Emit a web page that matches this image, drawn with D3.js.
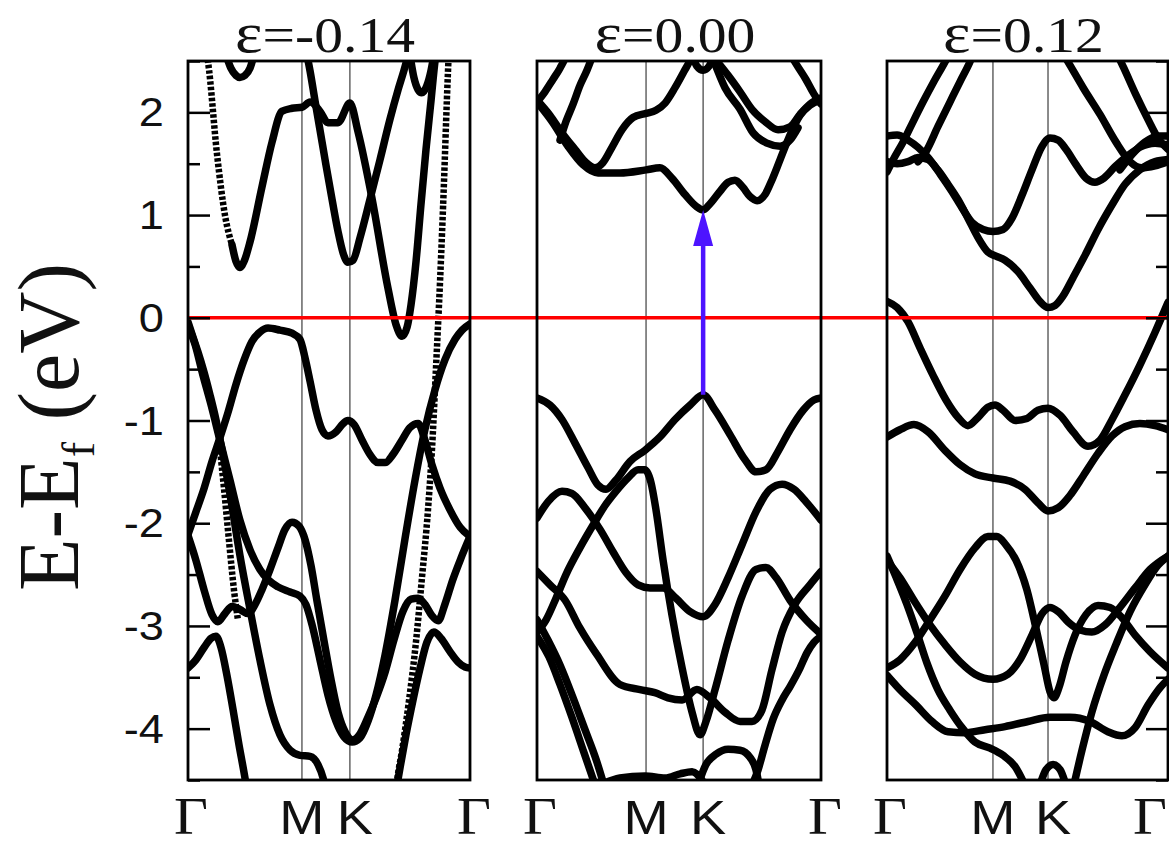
<!DOCTYPE html>
<html>
<head>
<meta charset="utf-8">
<script src="https://cdn.jsdelivr.net/npm/d3@7/dist/d3.min.js"></script>
<style>
  body { margin: 0; background: #fff; }
  svg { display: block; }
</style>
</head>
<body>
<div id="chart"></div>
<script>
// energy window (eV) and ticks
const energyRange = [-4.5, 2.5];
const majorTicks = [-4, -3, -2, -1, 0, 1, 2];
const minorTicks = [-4.5, -3.5, -2.5, -1.5, -0.5, 0.5, 1.5, 2.5];
const kLabels = ["Γ", "M", "K", "Γ"];
const strains = ["-0.14", "0.00", "0.12"];

// k-path positions (percent of path) of Γ, M, K, Γ in each panel
const kTicksA = [0, 40.4, 57.4, 100];
const kTicksB = [0, 38.4, 58.5, 100];
const kTicksC = [0, 37.7, 57.3, 100];

// gap arrow in the middle panel: [k, E from, E to]
const gapArrow = [58.5, -0.75, 1.05];

// bands as [k, E] — strain -0.14
const bandsA = [
  [[15.6,0.71],[17.0,0.55],[18.4,0.49],[19.9,0.55],[22.0,0.74],[26.2,1.27],[29.8,1.71],[33.3,2.01],[36.9,2.04],[40.4,2.05],[43.3,2.10],[46.8,2.01],[49.6,1.90],[53.2,1.90],[57.4,2.09],[60.3,1.81],[65.2,1.17],[70.9,0.29],[73.8,-0.07],[75.9,-0.18],[77.7,-0.09],[79.1,0.13],[80.9,0.56],[82.6,1.10],[84.4,1.64],[86.2,2.12],[87.6,2.50],[88.2,2.62]],
  [[13.5,2.56],[15.2,2.43],[17.0,2.36],[18.4,2.34],[20.2,2.36],[22.0,2.43],[23.4,2.56]],
  [[41.8,2.61],[43.3,2.40],[45.0,2.12],[46.8,1.83],[48.9,1.49],[51.1,1.15],[53.2,0.84],[55.0,0.63],[56.7,0.54],[58.5,0.56],[61.0,0.78],[64.5,1.15],[68.1,1.54],[71.6,1.93],[74.5,2.22],[76.6,2.41],[78.4,2.59]],
  [[78.7,2.56],[80.1,2.34],[81.6,2.22],[82.9,2.19],[84.7,2.26],[86.2,2.41],[87.2,2.56]],
  [[0,-0.04],[1.8,-0.19],[3.5,-0.33],[5.7,-0.53],[7.8,-0.75],[9.9,-0.99],[12.1,-1.29],[14.9,-1.72],[18.4,-2.31],[22.0,-2.84],[25.5,-3.33],[29.1,-3.77],[32.6,-4.06],[36.2,-4.21],[39.7,-4.26],[43.3,-4.27],[46.1,-4.35],[47.9,-4.48],[48.9,-4.60]],
  [[0,-2.11],[2.8,-1.89],[5.7,-1.66],[8.5,-1.40],[11.3,-1.17],[14.2,-0.92],[17.0,-0.65],[19.9,-0.41],[22.7,-0.23],[25.5,-0.14],[28.4,-0.10],[32.6,-0.12],[36.9,-0.15],[39.7,-0.21],[41.5,-0.39],[43.3,-0.62],[45.4,-0.90],[47.5,-1.09],[49.6,-1.15],[52.5,-1.11],[55.0,-1.03],[56.7,-1.00],[58.9,-1.04],[61.7,-1.19],[64.5,-1.33],[67.4,-1.41],[69.9,-1.41],[72.7,-1.33],[75.9,-1.19],[78.7,-1.07],[81.6,-1.03],[84.0,-1.19],[86.5,-1.43],[89.4,-1.66],[92.9,-1.87],[96.5,-2.04],[100,-2.13]],
  [[0,-0.07],[2.5,-0.26],[5.3,-0.56],[8.2,-0.85],[11.3,-1.19],[14.9,-1.58],[18.4,-1.97],[22.0,-2.26],[25.5,-2.45],[28.4,-2.55],[31.9,-2.62],[36.2,-2.67],[39.7,-2.71],[41.8,-2.79],[44.0,-2.99],[46.8,-3.33],[49.6,-3.67],[52.5,-3.93],[55.3,-4.08],[58.2,-4.13],[61.0,-4.09],[63.8,-3.93],[66.7,-3.67],[69.9,-3.28],[73.4,-2.75],[76.9,-2.16],[80.5,-1.58],[84.0,-1.09],[87.6,-0.70],[91.1,-0.41],[94.7,-0.21],[97.2,-0.12],[100,-0.06]],
  [[0,-2.12],[2.8,-2.36],[5.7,-2.65],[8.5,-2.89],[10.6,-2.96],[13.1,-2.88],[15.6,-2.81],[18.4,-2.84],[21.3,-2.88],[23.8,-2.79],[26.2,-2.65],[29.1,-2.45],[31.9,-2.24],[34.4,-2.06],[36.9,-1.99],[39.4,-2.03],[41.5,-2.16],[43.6,-2.41],[45.7,-2.75],[48.2,-3.14],[50.7,-3.52],[53.2,-3.84],[55.7,-4.03],[58.2,-4.11],[61.0,-4.05],[63.8,-3.89],[66.7,-3.70],[69.9,-3.45],[73.0,-3.14],[76.2,-2.86],[79.1,-2.74],[81.6,-2.73],[84.0,-2.79],[86.5,-2.90],[88.7,-2.95],[91.1,-2.79],[93.9,-2.55],[96.8,-2.34],[100,-2.13]],
  [[0,-3.41],[2.8,-3.33],[5.7,-3.21],[8.2,-3.12],[9.9,-3.10],[11.7,-3.21],[13.8,-3.48],[16.0,-3.82],[18.1,-4.16],[20.2,-4.48],[20.9,-4.60]],
  [[73.8,-4.60],[75.2,-4.38],[77.3,-4.06],[79.8,-3.72],[82.3,-3.41],[84.7,-3.16],[87.2,-3.06],[89.7,-3.12],[92.9,-3.25],[95.7,-3.35],[98.2,-3.40],[100,-3.41]]
];
const dottedA = [
  [[6.3,2.62],[7.1,2.49],[10.3,1.59],[13.1,1.00],[15.6,0.71]],
  [[73.6,-4.65],[74.1,-4.52],[75.9,-4.21],[78.4,-3.72],[80.9,-3.14],[82.9,-2.55],[85.1,-1.87],[86.5,-1.29],[87.9,-0.51],[89.4,0.37],[90.8,1.34],[91.8,2.12],[92.5,2.61]],
  [[11.0,-1.19],[12.8,-1.67],[14.5,-2.16],[16.3,-2.65],[17.7,-2.94]]
];

// strain 0.00
const bandsB = [
  [[0,2.10],[5.3,1.91],[10.9,1.67],[16.2,1.49],[21.5,1.41],[29.2,1.41],[38.4,1.44],[43.3,1.46],[47.5,1.36],[52.1,1.20],[56.3,1.08],[58.5,1.05],[60.6,1.10],[64.4,1.23],[67.3,1.32],[69.7,1.34],[72.5,1.27],[75.0,1.18],[77.5,1.14],[80.3,1.20],[82.7,1.34],[85.6,1.54],[89.1,1.78],[92.6,1.97],[96.1,2.07],[100,2.12]],
  [[0,2.12],[4.6,1.97],[8.8,1.80],[13.4,1.64],[17.3,1.51],[20.4,1.46],[23.2,1.51],[26.4,1.66],[29.9,1.83],[33.8,1.95],[38.4,1.99],[41.9,2.02],[45.1,2.09],[48.6,2.24],[51.8,2.40],[53.9,2.51],[54.9,2.59]],
  [[0,2.10],[2.8,2.20],[5.6,2.32],[8.1,2.43],[10.2,2.55],[11.0,2.62]],
  [[8.1,1.73],[10.2,1.91],[12.7,2.08],[15.1,2.26],[17.6,2.41],[19.7,2.56]],
  [[54.6,2.56],[56.3,2.45],[58.5,2.41],[60.6,2.45],[62.3,2.56]],
  [[63.0,2.51],[67.3,2.36],[71.5,2.20],[75.7,2.03],[80.3,1.91],[84.9,1.83],[89.1,1.86],[92.6,1.98],[96.1,2.08],[100,2.14]],
  [[62.0,2.52],[66.2,2.24],[71.5,2.03],[76.1,1.80],[81.0,1.70],[85.6,1.67],[89.1,1.73],[91.9,1.85]],
  [[88.7,2.59],[91.5,2.46],[94.7,2.32],[97.5,2.18],[100,2.08]],
  [[0,-0.78],[4.6,-0.85],[8.8,-0.99],[13.4,-1.22],[18.0,-1.46],[21.5,-1.63],[24.3,-1.67],[27.8,-1.58],[32.7,-1.40],[38.0,-1.29],[43.3,-1.16],[48.6,-0.99],[53.9,-0.85],[58.5,-0.75],[62.7,-0.90],[68.0,-1.14],[73.2,-1.38],[77.1,-1.50],[80.6,-1.48],[84.9,-1.30],[89.1,-1.09],[93.7,-0.90],[97.5,-0.80],[100,-0.78]],
  [[0,-1.95],[3.9,-1.79],[8.8,-1.69],[12.3,-1.71],[16.9,-1.85],[22.2,-2.06],[26.8,-2.28],[31.3,-2.48],[35.6,-2.60],[39.8,-2.63],[44.4,-2.63],[48.9,-2.73],[53.9,-2.86],[58.5,-2.91],[62.7,-2.79],[67.3,-2.53],[72.2,-2.21],[77.1,-1.89],[82.0,-1.67],[86.3,-1.62],[90.5,-1.67],[94.7,-1.79],[100,-1.97]],
  [[0,-3.06],[3.2,-2.94],[6.7,-2.73],[10.2,-2.50],[15.1,-2.24],[19.7,-2.02],[23.9,-1.83],[27.8,-1.69],[32.0,-1.56],[35.6,-1.48],[38.0,-1.48],[40.1,-1.60],[41.9,-1.87],[44.4,-2.36],[47.5,-2.89],[51.1,-3.41],[54.6,-3.84],[57.4,-4.06],[59.5,-3.93],[62.7,-3.62],[67.3,-3.14],[72.2,-2.71],[77.1,-2.45],[80.6,-2.43],[84.2,-2.53],[89.1,-2.75],[94.7,-2.94],[100,-3.08]],
  [[0,-2.47],[4.6,-2.60],[9.9,-2.75],[15.1,-3.02],[21.1,-3.28],[29.2,-3.57],[36.3,-3.62],[41.5,-3.65],[46.1,-3.70],[51.1,-3.72],[56.3,-3.62],[60.9,-3.70],[66.2,-3.84],[71.5,-3.93],[75.7,-3.93],[79.2,-3.82],[82.7,-3.43],[86.3,-3.06],[90.8,-2.79],[96.1,-2.60],[100,-2.47]],
  [[0,-2.94],[3.9,-3.14],[8.1,-3.38],[12.3,-3.67],[16.9,-4.01],[20.8,-4.30],[23.6,-4.55]],
  [[0,-3.10],[4.2,-3.30],[8.1,-3.57],[12.3,-3.89],[16.5,-4.23],[20.1,-4.52]],
  [[22.2,-4.55],[29.2,-4.48],[38.0,-4.46],[45.1,-4.48],[50.4,-4.44],[54.6,-4.42],[58.1,-4.50]],
  [[56.7,-4.55],[59.5,-4.35],[63.0,-4.25],[67.3,-4.20],[71.5,-4.21],[75.0,-4.28],[77.1,-4.40],[78.2,-4.55]],
  [[75.7,-4.55],[77.5,-4.43],[80.3,-4.16],[83.1,-3.91],[86.3,-3.72],[89.1,-3.59],[92.6,-3.41],[95.1,-3.26],[97.5,-3.16],[100,-3.10]]
];

// strain 0.12
const bandsC = [
  [[0,1.77],[3.6,1.78],[7.5,1.73],[11.0,1.66],[14.6,1.56],[18.9,1.40],[23.1,1.23],[26.7,1.07],[30.2,0.93],[34.2,0.86],[37.7,0.84],[41.3,0.86],[44.5,0.97],[48.0,1.19],[51.6,1.44],[55.2,1.67],[58.0,1.75],[60.9,1.73],[63.7,1.64],[67.3,1.49],[70.8,1.36],[74.0,1.32],[77.2,1.36],[81.1,1.47],[85.8,1.58],[90.0,1.66],[95.4,1.70],[100,1.68]],
  [[0,1.52],[3.6,1.50],[7.5,1.52],[11.0,1.56],[14.6,1.54],[18.1,1.44],[21.7,1.30],[25.3,1.15],[28.8,0.97],[32.4,0.78],[35.9,0.64],[38.8,0.60],[42.0,0.56],[46.6,0.45],[50.9,0.29],[54.4,0.16],[57.3,0.10],[59.8,0.12],[62.6,0.21],[66.2,0.39],[70.5,0.61],[75.1,0.86],[80.1,1.10],[84.7,1.30],[90.0,1.44],[95.4,1.52],[100,1.54]],
  [[0,1.42],[2.8,1.57],[5.7,1.71],[9.3,1.91],[12.8,2.10],[16.7,2.30],[21.0,2.51],[22.8,2.61]],
  [[11.0,1.52],[13.9,1.62],[18.1,1.86],[22.4,2.10],[26.0,2.30],[29.5,2.49],[31.3,2.61]],
  [[62.3,2.59],[65.1,2.46],[69.8,2.24],[75.8,1.98],[81.5,1.71],[86.5,1.52],[90.7,1.46],[95.4,1.48],[100,1.52]],
  [[81.5,2.59],[84.3,2.43],[88.6,2.17],[92.9,1.93],[96.4,1.75],[100,1.64]],
  [[82.9,1.44],[87.2,1.59],[91.8,1.71],[96.4,1.77],[100,1.77]],
  [[0,0.16],[3.6,0.10],[7.5,-0.04],[11.7,-0.29],[16.4,-0.56],[21.0,-0.80],[25.3,-0.97],[28.8,-1.05],[32.4,-0.97],[35.9,-0.87],[38.4,-0.85],[41.3,-0.90],[45.6,-1.00],[49.8,-0.98],[53.7,-0.90],[57.3,-0.88],[61.6,-0.95],[66.2,-1.11],[71.5,-1.25],[75.8,-1.19],[80.1,-0.99],[84.7,-0.75],[90.0,-0.46],[95.4,-0.14],[100,0.15]],
  [[0,-1.16],[4.6,-1.09],[9.6,-1.04],[14.6,-1.11],[20.6,-1.29],[26.0,-1.43],[31.3,-1.52],[37.7,-1.56],[43.8,-1.59],[49.1,-1.67],[53.7,-1.80],[57.3,-1.88],[60.9,-1.85],[65.1,-1.73],[69.8,-1.54],[75.1,-1.32],[80.1,-1.15],[84.7,-1.06],[90.0,-1.03],[95.4,-1.05],[100,-1.09]],
  [[0,-2.32],[3.6,-2.55],[7.1,-2.79],[10.7,-3.07],[14.2,-3.36],[18.1,-3.62],[22.4,-3.82],[26.7,-3.99],[31.3,-4.13],[36.7,-4.19],[41.3,-4.26],[45.6,-4.37],[49.1,-4.55]],
  [[0,-2.36],[4.6,-2.53],[10.0,-2.77],[15.3,-2.99],[20.6,-3.18],[26.0,-3.35],[31.3,-3.47],[37.7,-3.52],[43.1,-3.47],[47.3,-3.33],[51.6,-3.09],[55.2,-2.88],[58.0,-2.82],[60.9,-2.86],[64.4,-2.96],[68.7,-3.04],[72.9,-3.06],[77.6,-2.99],[82.9,-2.82],[88.3,-2.63],[93.6,-2.45],[100,-2.32]],
  [[0,-3.41],[4.6,-3.33],[10.0,-3.16],[15.3,-2.94],[20.6,-2.71],[26.0,-2.45],[31.3,-2.24],[35.9,-2.13],[39.1,-2.13],[42.3,-2.21],[45.9,-2.36],[49.8,-2.65],[53.0,-3.02],[55.9,-3.38],[58.0,-3.64],[59.4,-3.70],[61.2,-3.60],[63.7,-3.35],[66.9,-3.09],[70.8,-2.89],[75.1,-2.80],[79.4,-2.82],[83.6,-2.92],[88.3,-3.09],[93.6,-3.25],[100,-3.41]],
  [[66.5,-4.55],[69.4,-4.21],[72.9,-3.84],[77.2,-3.48],[81.5,-3.18],[86.5,-2.86],[91.8,-2.60],[96.4,-2.41],[100,-2.32]],
  [[0,-3.48],[4.6,-3.62],[10.3,-3.77],[16.0,-3.93],[21.7,-4.03],[27.8,-4.04],[34.9,-4.01],[42.0,-3.98],[50.2,-3.93],[58.0,-3.89],[65.1,-3.89],[72.2,-3.93],[78.6,-4.03],[83.6,-4.07],[88.3,-3.99],[92.9,-3.77],[97.2,-3.60],[100,-3.52]],
  [[54.4,-4.55],[56.6,-4.40],[59.1,-4.35],[61.6,-4.40],[63.7,-4.55]]
];

const width = 1169;
const height = 846;
const frameTop = 61;
const frameBottom = 780;
const panelLeft = [188, 537, 887];
const panelWidth = [282, 284, 281];
const stretch = 1.13;

const panels = [
  { strain: strains[0], kTicks: kTicksA, bands: bandsA, dotted: dottedA },
  { strain: strains[1], kTicks: kTicksB, bands: bandsB, dotted: [] },
  { strain: strains[2], kTicks: kTicksC, bands: bandsC, dotted: [] }
];

const svg = d3.select("#chart")
  .append("svg")
  .attr("width", width)
  .attr("height", height);

const y = d3.scaleLinear().domain(energyRange).range([frameBottom, frameTop]);

const line = d3.line().curve(d3.curveMonotoneX);

const xScales = [];

panels.forEach((p, i) => {
  const x = d3.scaleLinear().domain([0, 100]).range([panelLeft[i], panelLeft[i] + panelWidth[i]]);
  xScales.push(x);
  line.x(d => x(d[0])).y(d => y(d[1]));

  svg.append("clipPath")
    .attr("id", `clip${i}`)
    .append("rect")
    .attr("x", x(0))
    .attr("y", frameTop)
    .attr("width", x(100) - x(0))
    .attr("height", frameBottom - frameTop);

  const g = svg.append("g").attr("clip-path", `url(#clip${i})`);

  // high symmetry lines
  g.selectAll("line.sym")
    .data([p.kTicks[1], p.kTicks[2]])
    .enter()
    .append("line")
    .attr("x1", d => x(d))
    .attr("x2", d => x(d))
    .attr("y1", frameTop)
    .attr("y2", frameBottom)
    .attr("stroke", "#6e6e6e")
    .attr("stroke-width", 1.6);

  g.selectAll("path.band")
    .data(p.bands)
    .enter()
    .append("path")
    .attr("class", "band")
    .attr("d", line)
    .attr("fill", "none")
    .attr("stroke", "#000")
    .attr("stroke-width", 7.5)
    .attr("stroke-linecap", "round")
    .attr("stroke-linejoin", "round");

  g.selectAll("path.dots")
    .data(p.dotted)
    .enter()
    .append("path")
    .attr("class", "dots")
    .attr("d", line)
    .attr("fill", "none")
    .attr("stroke", "#000")
    .attr("stroke-width", 6.5)
    .attr("stroke-dasharray", "3.5 2");
});

// Fermi level, runs across all panels
svg.append("line")
  .attr("x1", panelLeft[0])
  .attr("x2", width)
  .attr("y1", y(0))
  .attr("y2", y(0))
  .attr("stroke", "#ff0000")
  .attr("stroke-width", 3.5);

panels.forEach((p, i) => {
  const x = xScales[i];

  svg.append("rect")
    .attr("x", x(0))
    .attr("y", frameTop)
    .attr("width", x(100) - x(0))
    .attr("height", frameBottom - frameTop)
    .attr("fill", "none")
    .attr("stroke", "#000")
    .attr("stroke-width", 2.8);

  // title
  const t = svg.append("text")
    .attr("transform", `translate(${(x(0) + x(100)) / 2 - 4}, 52) scale(${stretch},1)`)
    .attr("text-anchor", "middle")
    .style("font-family", "'Liberation Serif', 'Times New Roman', serif")
    .style("font-size", "51px")
    .style("fill", "#111");
  t.append("tspan").style("font-size", "58px").text("ε");
  t.append("tspan").text("=" + p.strain);

  // k labels; the last one is kept inside the picture
  p.kTicks.forEach((k, j) => {
    const gamma = kLabels[j] === "Γ";
    const shift = j === 0 ? 3 : j === 3 ? 4 : j === 2 ? 5 : 0;
    const last = i === panels.length - 1 && j === 3;
    svg.append("text")
      .attr("transform", `translate(${last ? width - 2 : x(k) + shift}, 834) scale(${stretch},1)`)
      .attr("text-anchor", last ? "end" : "middle")
      .style("font-family", gamma ? "'Liberation Serif', serif" : "'Liberation Sans', Arial, sans-serif")
      .style("font-size", gamma ? "52px" : "48px")
      .style("fill", "#111")
      .text(kLabels[j]);
  });
});

// energy axis: inward ticks on left of first panel, right of last panel
const tickLeft = svg.append("g").attr("transform", `translate(${panelLeft[0]},0)`);
tickLeft.call(d3.axisRight(y).tickValues(majorTicks).tickSize(22).tickFormat(""));
tickLeft.append("g").call(d3.axisRight(y).tickValues(minorTicks).tickSize(12).tickFormat(""));
const rightEdge = xScales[2](100);
const tickRight = svg.append("g").attr("transform", `translate(${rightEdge},0)`);
tickRight.call(d3.axisLeft(y).tickValues(majorTicks).tickSize(22).tickFormat(""));
tickRight.append("g").call(d3.axisLeft(y).tickValues(minorTicks).tickSize(12).tickFormat(""));
svg.selectAll(".domain").remove();
svg.selectAll(".tick line").attr("stroke", "#000").attr("stroke-width", 2.5);

svg.selectAll("text.ylab")
  .data(majorTicks)
  .enter()
  .append("text")
  .attr("class", "ylab")
  .attr("transform", d => `translate(164, ${y(d) + 14}) scale(${stretch},1)`)
  .attr("text-anchor", "end")
  .style("font-family", "'Liberation Sans', Arial, sans-serif")
  .style("font-size", "40px")
  .style("fill", "#111")
  .text(d => String(d));

// axis title
const yTitle = svg.append("text")
  .attr("transform", "translate(78, 427) rotate(-90)")
  .attr("text-anchor", "middle")
  .style("font-family", "'Liberation Serif', 'Times New Roman', serif")
  .style("font-size", "86px")
  .style("fill", "#111");
yTitle.append("tspan").text("E-E");
yTitle.append("tspan").attr("dy", 16).style("font-size", "46px").text("f");
yTitle.append("tspan").attr("dy", -16).text(" (eV)");

// band gap arrow
const xa = xScales[1](gapArrow[0]);
const yTip = y(gapArrow[2]);
const headLen = 36;
const headHalf = 10;
svg.append("line")
  .attr("x1", xa)
  .attr("x2", xa)
  .attr("y1", y(gapArrow[1]))
  .attr("y2", yTip + headLen - 2)
  .attr("stroke", "#4d14ff")
  .attr("stroke-width", 4.5);
svg.append("path")
  .attr("d", d3.line()([[xa, yTip], [xa - headHalf, yTip + headLen], [xa + headHalf, yTip + headLen]]) + "Z")
  .attr("fill", "#4d14ff");
</script>
</body>
</html>
